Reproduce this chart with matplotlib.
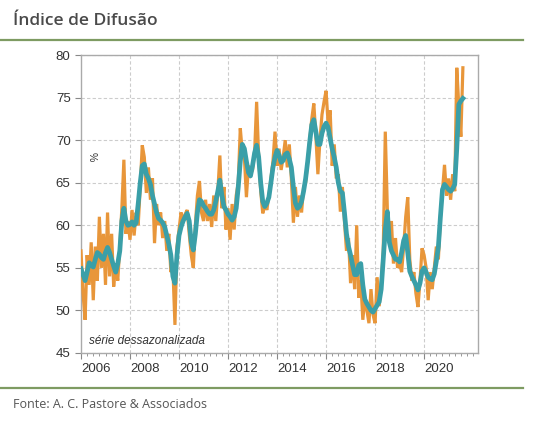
"""Índice de Difusão: série original (laranja) e média suavizada (verde-azulada)."""

import numpy as np
import matplotlib

matplotlib.use("Agg")
import matplotlib.pyplot as plt
from matplotlib.lines import Line2D
from matplotlib.ticker import MultipleLocator

# dados mensais, jan/2006 em diante
start_year = 2006

orange = [
    57.0, 52.0, 48.9, 56.5, 53.0, 58.0, 51.2, 57.5, 53.5, 61.0, 55.0, 59.0,  # 2006
    53.0, 61.5, 54.0, 59.0, 52.8, 55.5, 53.5, 57.5, 62.0, 67.7, 59.0, 60.5,  # 2007
    58.3, 61.8, 58.8, 61.5, 60.0, 64.5, 69.4, 68.0, 63.8, 66.8, 63.0, 65.5,  # 2008
    57.9, 62.5, 60.0, 61.5, 58.5, 60.5, 57.0, 59.0, 54.5, 55.0, 48.3, 57.5,  # 2009
    59.5, 61.5, 60.5, 61.3, 61.8, 59.0, 56.5, 55.0, 60.0, 63.5, 65.2, 61.5,  # 2010
    60.5, 63.0, 60.5, 62.5, 59.8, 63.5, 60.5, 64.0, 68.2, 62.0, 64.5, 59.5,  # 2011
    62.0, 58.3, 62.5, 59.5, 63.5, 65.0, 71.4, 68.5, 68.0, 63.3, 67.0, 66.0,  # 2012
    66.5, 68.5, 74.5, 68.0, 64.0, 61.4, 62.5, 61.8, 63.5, 65.5, 67.5, 71.0,  # 2013
    67.0, 69.0, 66.5, 68.0, 70.0, 66.8, 69.5, 65.5, 60.3, 64.5, 61.0, 63.5,  # 2014
    61.5, 64.5, 65.0, 67.5, 70.0, 72.5, 74.3, 70.5, 66.0, 70.0, 73.0, 74.5,  # 2015
    75.8, 72.0, 73.5, 67.0, 69.5, 65.5, 66.0, 61.6, 64.5, 60.5, 57.0, 58.5,  # 2016
    53.2, 56.5, 52.5, 60.0, 51.5, 53.5, 48.9, 51.5, 50.0, 48.5, 52.5, 49.5,  # 2017
    48.5, 53.9, 50.5, 53.0, 57.0, 71.0, 62.0, 58.0, 60.5, 55.5, 58.5, 55.0,  # 2018
    55.5, 54.5, 57.5, 61.0, 63.3, 56.0, 53.5, 54.5, 52.0, 50.4, 53.5, 57.3,  # 2019
    56.5, 55.0, 51.2, 54.5, 52.5, 55.0, 57.5, 56.0, 61.0, 64.0, 67.1, 63.5,  # 2020
    65.5, 63.0, 66.0, 64.0, 78.5, 74.0, 70.4, 78.5,                          # 2021
]

teal = [
    54.9, 54.2, 53.5, 54.5, 55.6, 55.3, 55.1, 56.0, 56.8, 56.6, 56.2, 56.0,  # 2006
    56.8, 57.4, 56.8, 56.0, 55.2, 54.5, 55.5, 57.0, 60.5, 62.0, 60.5, 60.0,  # 2007
    60.1, 60.4, 60.0, 60.3, 62.5, 65.0, 67.0, 67.2, 66.0, 65.5, 64.8, 63.5,  # 2008
    62.5, 61.5, 60.8, 60.6, 60.3, 59.8, 58.8, 57.8, 56.5, 54.0, 53.2, 56.5,  # 2009
    58.8, 59.8, 60.5, 61.0, 61.4, 60.5, 58.0, 57.1, 59.0, 61.5, 63.0, 62.8,  # 2010
    62.3, 62.0, 61.6, 61.3, 61.3, 61.8, 62.8, 64.0, 65.3, 63.5, 62.2, 61.8,  # 2011
    61.3, 61.0, 60.6, 61.0, 62.0, 64.5, 67.5, 69.5, 69.0, 67.5, 66.2, 65.8,  # 2012
    67.0, 68.5, 69.4, 68.0, 65.0, 62.8, 62.2, 62.6, 63.3, 65.0, 66.8, 68.0,  # 2013
    68.8, 68.2, 67.4, 67.6, 68.3, 68.5, 67.8, 66.8, 64.5, 62.6, 62.0, 62.2,  # 2014
    62.8, 64.0, 65.5, 67.5, 69.8, 71.8, 72.4, 71.0, 69.5, 69.5, 70.8, 71.6,  # 2015
    72.0, 71.5, 70.2, 69.0, 68.0, 66.8, 65.0, 64.0, 63.8, 61.5, 59.0, 57.5,  # 2016
    56.5, 55.3, 54.2, 54.2, 55.3, 55.5, 53.0, 51.3, 50.8, 50.4, 50.0, 49.8,  # 2017
    50.2, 50.6, 51.0, 52.5, 56.0, 59.5, 61.6, 58.0, 57.0, 56.5, 56.0, 56.0,  # 2018
    55.7, 56.8, 58.2, 58.8, 56.8, 54.6, 54.0, 53.5, 53.0, 52.4, 53.2, 54.6,  # 2019
    55.0, 54.5, 53.9, 53.7, 53.6, 54.3, 55.8, 57.5, 61.0, 64.2, 64.8, 64.5,  # 2020
    64.2, 64.0, 64.3, 64.8, 69.0, 74.2, 74.6, 74.9,                          # 2021
]

year_labels = ["2006", "2008", "2010", "2012", "2014", "2016", "2018", "2020"]

ORANGE = "#E8963A"
TEAL = "#3A9FA8"
GREEN_RULE = "#7E9B62"
TEXT = "#333333"

plt.rcParams["font.family"] = ["Liberation Sans", "DejaVu Sans"]

fig = plt.figure(figsize=(5.39, 4.24), dpi=100)

# cabeçalho e rodapé
fig.text(13 / 539, 1 - 21 / 424, "Índice de Difusão", fontsize=12.5,
         fontweight="semibold", family=["Open Sans", "DejaVu Sans"],
         color="#4a4a4a", va="center", ha="left")
fig.add_artist(Line2D([0, 523 / 539], [1 - 40 / 424] * 2, color=GREEN_RULE, lw=1.6))
fig.add_artist(Line2D([0, 523 / 539], [1 - 388 / 424] * 2, color=GREEN_RULE, lw=1.6))
fig.text(13 / 539, 1 - 405 / 424, "Fonte: A. C. Pastore & Associados", fontsize=9,
         family=["Open Sans", "DejaVu Sans"], color="#555555", va="center", ha="left")

ax = fig.add_axes([81 / 539, 1 - 353 / 424, 397 / 539, 298 / 424])

t = start_year + np.arange(len(orange)) / 12.0
ax.plot(t, orange, color=ORANGE, lw=2.3, solid_joinstyle="miter", zorder=3)
ax.plot(t, teal, color=TEAL, lw=3.4, zorder=4)

ax.set_xlim(2006.0, 2022.2)
ax.set_ylim(45, 80)

# grade
ax.yaxis.set_major_locator(MultipleLocator(5))
ax.grid(axis="y", color="#cccccc", ls=(0, (3, 2)), lw=0.8)
for yr in range(2008, 2022, 2):
    ax.axvline(yr, color="#cccccc", ls=(0, (3, 2)), lw=0.8, zorder=1)
ax.set_axisbelow(True)

# eixo x: rótulos a cada 2 anos, marcas anuais e trimestrais
ax.set_xticks([int(y) for y in year_labels])
ax.set_xticklabels(year_labels)
for lab in ax.get_xticklabels():
    lab.set_horizontalalignment("left")
ax.xaxis.set_minor_locator(MultipleLocator(0.25))
ax.tick_params(axis="x", which="major", length=4, color="#888888",
               labelsize=9.5, labelcolor=TEXT, pad=3)
ax.tick_params(axis="x", which="minor", length=2.5, color="#888888")
ax.tick_params(axis="y", length=4, color="#888888", labelsize=9.5, labelcolor=TEXT)

for side in ["left", "right", "top", "bottom"]:
    ax.spines[side].set_color("#aaaaaa")
    ax.spines[side].set_linewidth(1.0)

ax.text(0.028, 0.66, "%", transform=ax.transAxes, rotation=-90, fontsize=7.5,
        color=TEXT, ha="center", va="center")
ax.text(0.02, 0.04, "série dessazonalizada", transform=ax.transAxes, fontsize=8.5,
        style="italic", color=TEXT, ha="left", va="center")

fig.savefig("out.png", dpi=100)
